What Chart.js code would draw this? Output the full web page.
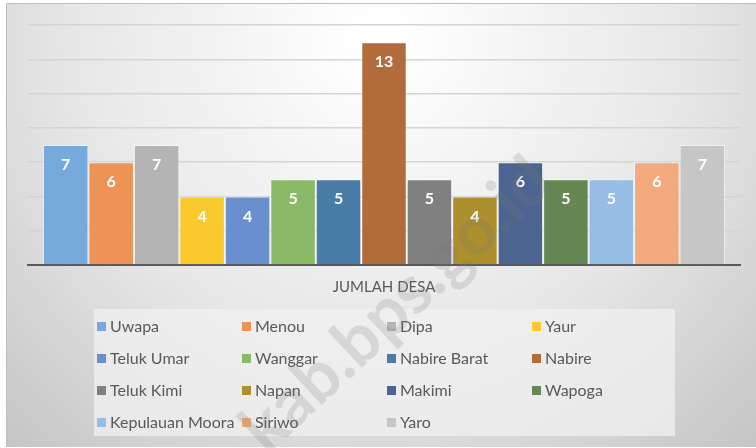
<!DOCTYPE html>
<html>
<head>
<meta charset="utf-8">
<script src="https://cdn.jsdelivr.net/npm/chart.js@4/dist/chart.umd.min.js"></script>
<style>
html,body{margin:0;padding:0;background:#fff;}
#wrap{position:relative;width:756px;height:448px;}
</style>
</head>
<body>
<div id="wrap"><canvas id="c" width="756" height="448"></canvas></div>
<script>
const categories = ['JUMLAH DESA'];
const seriesNames = ['Uwapa','Menou','Dipa','Yaur','Teluk Umar','Wanggar','Nabire Barat','Nabire','Teluk Kimi','Napan','Makimi','Wapoga','Kepulauan Moora','Siriwo','Yaro'];
const seriesValues = [7,6,7,4,4,5,5,13,5,4,6,5,5,6,7];
const seriesColors = ['#75AADB','#EE9356','#B4B4B4','#F9C92D','#6A8FCE','#8ABA68','#4A7CA8','#B26B3A','#808080','#AD8F2E','#4C6590','#668653','#96BDE3','#F2AA7C','#C6C6C6'];
const yTicks = [0,2,4,6,8,10,12,14];

const FONT = 'Lato, "Open Sans", sans-serif';
const TXT = '#595959';

const bgPlugin = {
  id: 'bg',
  beforeDraw(chart) {
    const ctx = chart.ctx;
    ctx.save();
    ctx.fillStyle = '#ffffff';
    ctx.fillRect(0,0,chart.width,chart.height);
    const g = ctx.createRadialGradient(380, 40, 20, 380, 40, 560);
    g.addColorStop(0, '#ffffff');
    g.addColorStop(0.55, '#e6e6e6');
    g.addColorStop(1, '#c4c4c4');
    ctx.fillStyle = g;
    ctx.fillRect(6,3,760,444);
    ctx.strokeStyle = '#bfbfbf';
    ctx.lineWidth = 1;
    ctx.beginPath();
    ctx.moveTo(6.5,447); ctx.lineTo(6.5,3.5); ctx.lineTo(760,3.5);
    ctx.stroke();
    ctx.restore();
  }
};

const labelPlugin = {
  id: 'vals',
  afterDatasetsDraw(chart) {
    const ctx = chart.ctx;
    ctx.save();
    ctx.fillStyle = '#ffffff';
    ctx.font = 'bold 16px ' + FONT;
    ctx.textAlign = 'center';
    ctx.textBaseline = 'middle';
    chart.data.datasets.forEach((ds, i) => {
      const el = chart.getDatasetMeta(i).data[0];
      ctx.fillText(String(ds.data[0]), el.x, el.y + 20);
    });
    ctx.restore();
  }
};

const legendPlugin = {
  id: 'gridLegend',
  afterDraw(chart) {
    const ctx = chart.ctx;
    ctx.save();
    ctx.fillStyle = 'rgba(240,240,240,0.75)';
    ctx.fillRect(94, 309, 581, 127);
    ctx.font = '16px ' + FONT;
    ctx.textBaseline = 'middle';
    ctx.textAlign = 'left';
    chart.data.datasets.forEach((ds, i) => {
      const col = i % 4, row = Math.floor(i / 4);
      const x = 97 + col * 145;
      const y = 326 + row * 32;
      ctx.fillStyle = ds.backgroundColor;
      ctx.fillRect(x, y - 4, 9, 9);
      ctx.fillStyle = TXT;
      ctx.fillText(ds.label, x + 13, y + 1);
    });
    ctx.restore();
  }
};

const watermarkPlugin = {
  id: 'wm',
  afterDraw(chart) {
    const ctx = chart.ctx;
    ctx.save();
    ctx.translate(252, 440);
    ctx.rotate(-43 * Math.PI / 180);
    ctx.font = 'bold 68px ' + FONT;
    ctx.fillStyle = 'rgba(120,120,120,0.2)';
    ctx.textBaseline = 'middle';
    ctx.fillText('kab.bps.go.id', 0, 0);
    ctx.restore();
  }
};

const datasets = seriesNames.map((n, i) => ({
  label: n,
  data: [seriesValues[i]],
  backgroundColor: seriesColors[i],
  borderColor: 'rgba(255,255,255,0.55)',
  borderWidth: 1,
  barPercentage: 1,
  categoryPercentage: 0.958
}));

new Chart(document.getElementById('c'), {
  type: 'bar',
  data: { labels: categories, datasets },
  options: {
    responsive: false,
    animation: false,
    devicePixelRatio: 1,
    layout: { padding: { left: 28, right: 16, top: 25, bottom: 147 } },
    plugins: { legend: { display: false }, tooltip: { enabled: false } },
    scales: {
      x: {
        grid: { display: false },
        border: { color: '#595959', width: 2 },
        ticks: { color: TXT, font: { family: FONT, size: 15 }, padding: 5 }
      },
      y: {
        min: 0, max: 14,
        afterBuildTicks(scale) { scale.ticks = yTicks.map(v => ({ value: v })); },
        ticks: { display: false },
        grid: { color: '#d4d4d4', lineWidth: 1.5, drawTicks: false },
        border: { display: false }
      }
    }
  },
  plugins: [bgPlugin, labelPlugin, legendPlugin, watermarkPlugin]
});
</script>
</body>
</html>
